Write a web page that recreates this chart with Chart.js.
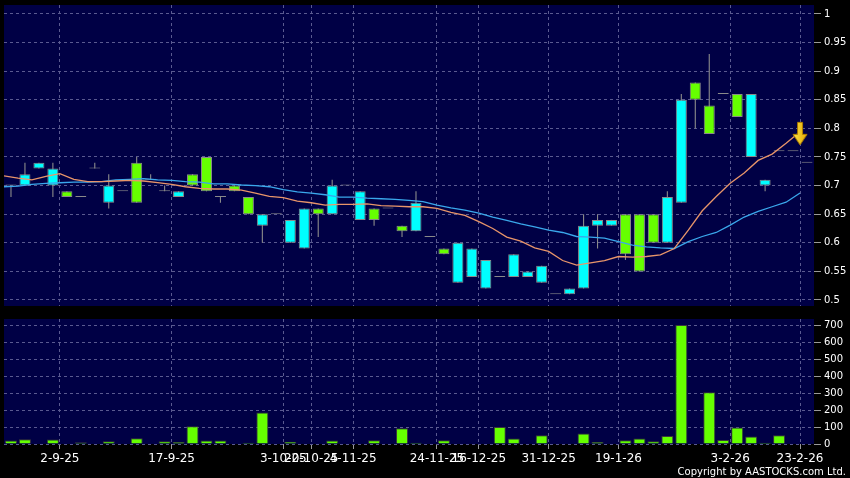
<!DOCTYPE html>
<html>
<head>
<meta charset="utf-8">
<title>Daily chart</title>
<script src="https://cdn.jsdelivr.net/npm/chart.js@4.4.1/dist/chart.umd.min.js"></script>
<style>
  html, body { margin: 0; padding: 0; background: #000; }
  #wrap { position: relative; width: 850px; height: 478px; background: #000; overflow: hidden; }
  #priceBox { position: absolute; left: 0; top: 0; width: 850px; height: 310px; }
  #volBox { position: absolute; left: 0; top: 310px; width: 850px; height: 168px; }
  #copy { position: absolute; right: 4px; top: 466px; color: #fff; font: 10px "DejaVu Sans"; line-height: 12px; }
</style>
</head>
<body>
<div id="wrap">
  <div id="priceBox"><canvas id="price"></canvas></div>
  <div id="volBox"><canvas id="volume"></canvas></div>
  <div id="copy">Copyright by AASTOCKS.com Ltd.</div>
</div>
<script>
// daily candles, oldest first
const opens = [0.70, 0.70, 0.73, 0.70, 0.69, 0.68, 0.73, 0.67, 0.69, 0.74,
               0.71, 0.69, 0.68, 0.72, 0.75, 0.68, 0.70, 0.68, 0.63, 0.65,
               0.60, 0.59, 0.66, 0.65, 0.70, 0.64, 0.66, 0.66, 0.63, 0.62,
               0.61, 0.59, 0.53, 0.54, 0.52, 0.54, 0.54, 0.54, 0.53, 0.51,
               0.51, 0.52, 0.63, 0.63, 0.65, 0.65, 0.65, 0.60, 0.67, 0.88,
               0.84, 0.86, 0.86, 0.75, 0.70, 0.76, 0.76, 0.74];
const highs = [0.70, 0.74, 0.74, 0.74, 0.69, 0.68, 0.74, 0.72, 0.69, 0.75,
               0.72, 0.70, 0.69, 0.72, 0.75, 0.68, 0.70, 0.68, 0.65, 0.65,
               0.64, 0.66, 0.66, 0.71, 0.70, 0.69, 0.66, 0.66, 0.63, 0.69,
               0.61, 0.59, 0.60, 0.59, 0.57, 0.54, 0.58, 0.55, 0.56, 0.51,
               0.52, 0.65, 0.65, 0.64, 0.65, 0.65, 0.65, 0.69, 0.86, 0.88,
               0.93, 0.86, 0.86, 0.86, 0.71, 0.76, 0.76, 0.74];
const lows = [0.68, 0.70, 0.73, 0.68, 0.68, 0.68, 0.73, 0.66, 0.69, 0.67,
              0.71, 0.69, 0.68, 0.70, 0.69, 0.67, 0.69, 0.65, 0.60, 0.65,
              0.60, 0.59, 0.61, 0.65, 0.70, 0.64, 0.63, 0.66, 0.61, 0.62,
              0.61, 0.58, 0.53, 0.54, 0.52, 0.54, 0.54, 0.54, 0.53, 0.51,
              0.51, 0.52, 0.59, 0.63, 0.57, 0.55, 0.60, 0.60, 0.67, 0.80,
              0.79, 0.86, 0.82, 0.75, 0.69, 0.76, 0.76, 0.74];
const closes = [0.70, 0.72, 0.74, 0.73, 0.68, 0.68, 0.73, 0.70, 0.69, 0.67,
                0.71, 0.69, 0.69, 0.70, 0.69, 0.68, 0.69, 0.65, 0.65, 0.65,
                0.64, 0.66, 0.65, 0.70, 0.70, 0.69, 0.64, 0.66, 0.62, 0.67,
                0.61, 0.58, 0.60, 0.59, 0.57, 0.54, 0.58, 0.55, 0.56, 0.51,
                0.52, 0.63, 0.64, 0.64, 0.58, 0.55, 0.60, 0.68, 0.85, 0.85,
                0.79, 0.86, 0.82, 0.86, 0.71, 0.76, 0.76, 0.74];
// volume in thousands
const volumes = [20, 28, 3, 26, 0, 10, 0, 16, 0, 34,
                 0, 16, 12, 105, 20, 20, 0, 8, 186, 0,
                 14, 0, 0, 20, 0, 0, 22, 0, 93, 8,
                 0, 22, 0, 0, 0, 100, 32, 0, 52, 0,
                 0, 62, 12, 0, 22, 32, 16, 48, 704, 0,
                 307, 24, 97, 44, 8, 52, 0, 0];
// moving averages, value k sits on the boundary before candle k
const ma10 = [0.717, 0.713, 0.710, 0.716, 0.721, 0.711, 0.707, 0.707, 0.708, 0.709,
              0.708, 0.705, 0.702, 0.698, 0.695, 0.694, 0.694, 0.692, 0.687, 0.681,
              0.679, 0.673, 0.670, 0.666, 0.667, 0.667, 0.668, 0.665, 0.664, 0.663,
              0.663, 0.660, 0.653, 0.648, 0.637, 0.625, 0.610, 0.603, 0.591, 0.585,
              0.569, 0.561, 0.565, 0.569, 0.576, 0.575, 0.576, 0.579, 0.590, 0.622,
              0.656, 0.681, 0.704, 0.722, 0.744, 0.755, 0.774, 0.794];
const ma20 = [0.698, 0.699, 0.702, 0.704, 0.705, 0.706, 0.706, 0.707, 0.710, 0.711,
              0.712, 0.710, 0.709, 0.707, 0.706, 0.703, 0.703, 0.701, 0.700, 0.698,
              0.693, 0.689, 0.687, 0.684, 0.680, 0.680, 0.678, 0.677, 0.676, 0.674,
              0.672, 0.666, 0.661, 0.657, 0.652, 0.645, 0.639, 0.633, 0.628, 0.622,
              0.618, 0.611, 0.610, 0.608, 0.602, 0.596, 0.593, 0.591, 0.590, 0.602,
              0.611, 0.618, 0.631, 0.645, 0.655, 0.663, 0.671, 0.687];
// date ticks sit on candle boundaries
const dateTicks = [3.5, 11.5, 19.5, 21.5, 24.5, 30.5, 33.5, 38.5, 43.5, 51.5, 56.5];
const dateLabels = ['2-9-25', '17-9-25', '3-10-25', '20-10-25', '4-11-25', '24-11-25',
                    '16-12-25', '31-12-25', '19-1-26', '3-2-26', '23-2-26'];
const priceTicks = [0.5, 0.55, 0.6, 0.65, 0.7, 0.75, 0.8, 0.85, 0.9, 0.95, 1];
const volumeTicks = [0, 100, 200, 300, 400, 500, 600, 700];

const GRID = '#5a5a90';
const TICK = '#9a9a9a';
const UP = '#00ffff';
const DOWN = '#66ff00';
const EDGE = '#8a8a8a';

Chart.defaults.font.family = '"DejaVu Sans", Verdana, sans-serif';
Chart.defaults.color = '#ffffff';

const plotBackground = {
  id: 'plotBackground',
  beforeDraw(chart) {
    const { ctx, chartArea: a } = chart;
    ctx.save();
    ctx.fillStyle = '#000045';
    ctx.fillRect(a.left, a.top, a.right - a.left, a.bottom - a.top);
    ctx.restore();
  }
};

function candleColor(i) {
  if (closes[i] > opens[i]) return UP;
  if (closes[i] < opens[i]) return DOWN;
  return EDGE;
}

function makeArrow() {
  const c = document.createElement('canvas');
  c.width = 16;
  c.height = 28;
  const g = c.getContext('2d');
  const grad = g.createLinearGradient(0, 4, 16, 4);
  grad.addColorStop(0, '#ffe84a');
  grad.addColorStop(1, '#e0a400');
  g.fillStyle = grad;
  g.strokeStyle = '#a87800';
  g.lineWidth = 1;
  g.beginPath();
  g.moveTo(5.5, 4.5);
  g.lineTo(10.5, 4.5);
  g.lineTo(10.5, 16.5);
  g.lineTo(15, 16.5);
  g.lineTo(8, 27);
  g.lineTo(1, 16.5);
  g.lineTo(5.5, 16.5);
  g.closePath();
  g.fill();
  g.stroke();
  return c;
}

function indexAxis(showLabels) {
  return {
    type: 'linear',
    min: -0.5,
    max: opens.length - 0.5,
    offset: false,
    afterBuildTicks: s => { s.ticks = dateTicks.map(v => ({ value: v })); },
    afterFit: s => {
      s.height = showLabels ? 34 : 0;
      s.paddingLeft = 0;
      s.paddingRight = 0;
    },
    ticks: {
      display: showLabels,
      autoSkip: false,
      maxRotation: 0,
      minRotation: 0,
      padding: 3,
      color: '#ffffff',
      font: { size: 12 },
      callback: (v, i) => dateLabels[i]
    },
    grid: { offset: false, color: GRID, drawTicks: showLabels, tickColor: TICK, tickLength: 5 },
    border: { display: false, dash: [3, 3] }
  };
}

function valueAxis(min, max, tickList) {
  return {
    position: 'right',
    min: min,
    max: max,
    beginAtZero: false,
    afterBuildTicks: s => { s.ticks = tickList.map(v => ({ value: v })); },
    afterFit: s => {
      s.width = 36;
      s.paddingTop = 0;
      s.paddingBottom = 0;
    },
    ticks: { padding: 3, color: '#ffffff', font: { size: 10 }, callback: v => String(v) },
    grid: { color: GRID, tickColor: TICK, tickLength: 7 },
    border: { display: false, dash: [3, 3] }
  };
}

const last = ma10.length - 1;

new Chart(document.getElementById('price'), {
  type: 'bar',
  data: {
    datasets: [
      {
        type: 'line',
        label: 'signal',
        data: [{ x: last - 0.5, y: ma10[last] }],
        showLine: false,
        pointStyle: makeArrow(),
        pointRadius: 8,
        order: 0
      },
      {
        type: 'line',
        label: 'MA10',
        data: ma10.map((v, k) => ({ x: k - 0.5, y: v })),
        borderColor: '#e8956a',
        borderWidth: 1.3,
        pointRadius: 0,
        order: 1
      },
      {
        type: 'line',
        label: 'MA20',
        data: ma20.map((v, k) => ({ x: k - 0.5, y: v })),
        borderColor: '#3aa8ec',
        borderWidth: 1.3,
        pointRadius: 0,
        order: 1
      },
      {
        label: 'body',
        data: opens.map((o, i) => ({ x: i, y: [o, closes[i]] })),
        backgroundColor: opens.map((o, i) => candleColor(i)),
        borderColor: EDGE,
        borderWidth: 1,
        borderSkipped: false,
        minBarLength: 1,
        grouped: false,
        categoryPercentage: 1,
        barPercentage: 0.79,
        order: 2
      },
      {
        label: 'wick',
        data: lows.map((l, i) => ({ x: i, y: [l, highs[i]] })),
        backgroundColor: EDGE,
        borderWidth: 0,
        grouped: false,
        categoryPercentage: 1,
        barPercentage: 0.08,
        order: 3
      }
    ]
  },
  options: {
    responsive: true,
    maintainAspectRatio: false,
    animation: false,
    layout: { autoPadding: false, padding: { left: 4, top: 5, right: 0, bottom: 4 } },
    plugins: { legend: { display: false }, tooltip: { enabled: false } },
    scales: {
      x: indexAxis(false),
      y: valueAxis(0.4895, 1.0157, priceTicks)
    }
  },
  plugins: [plotBackground]
});

new Chart(document.getElementById('volume'), {
  type: 'bar',
  data: {
    datasets: [{
      label: 'volume',
      data: volumes.map((v, i) => ({ x: i, y: v })),
      backgroundColor: DOWN,
      borderColor: '#3a3a3a',
      borderWidth: 1,
      grouped: false,
      categoryPercentage: 1,
      barPercentage: 0.86
    }]
  },
  options: {
    responsive: true,
    maintainAspectRatio: false,
    animation: false,
    layout: { autoPadding: false, padding: { left: 4, top: 9, right: 0, bottom: 0 } },
    plugins: { legend: { display: false }, tooltip: { enabled: false } },
    scales: {
      x: indexAxis(true),
      y: valueAxis(0, 740, volumeTicks)
    }
  },
  plugins: [plotBackground]
});
</script>
</body>
</html>
